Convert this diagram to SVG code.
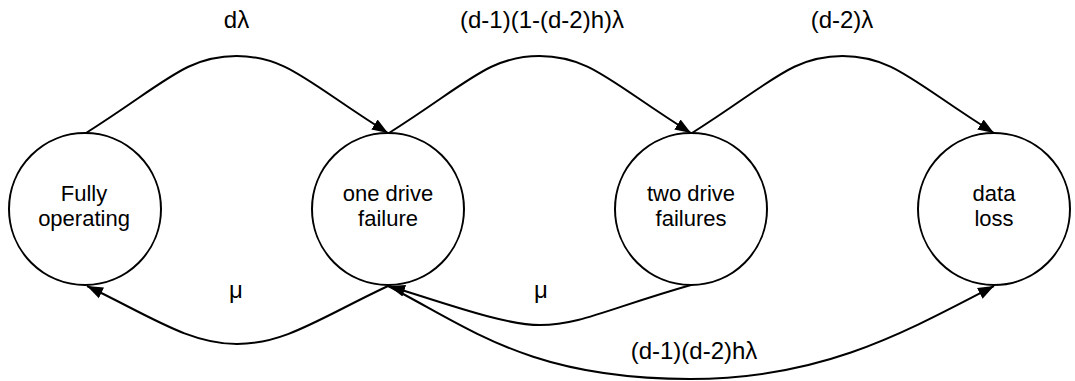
<svg xmlns="http://www.w3.org/2000/svg" width="1075" height="381" viewBox="0 0 1075 381">
<style>
.node circle{fill:#fff;stroke:#000;stroke-width:2}
.node text{font-family:"Liberation Sans",Arial,sans-serif;font-size:22px;fill:#000;text-anchor:middle}
.edge{fill:none;stroke:#000;stroke-width:2}
.lbl{font-family:"Liberation Sans",Arial,sans-serif;font-size:24px;fill:#000;text-anchor:middle}
</style>
<defs>
<marker id="arr" markerWidth="18" markerHeight="14" refX="16" refY="7" orient="auto" markerUnits="userSpaceOnUse">
<path d="M0,1 L16,7 L0,13 z" fill="#000"/>
</marker>
</defs>
<rect width="1075" height="381" fill="#fff"/>
<g id="connectors">
<path class="edge" d="M86,133 C165,83 186,56 236.5,56 C287,56 308,83 388,133" marker-end="url(#arr)"/>
<path class="edge" d="M389,133 C468,83 489,56 539.5,56 C590,56 611,83 691,133" marker-end="url(#arr)"/>
<path class="edge" d="M692,133 C771,83 792,56 842.5,56 C893,56 914,83 994,133" marker-end="url(#arr)"/>
<path class="edge" d="M388,286 C320,318 285,344 237,344 C189,344 150,316 87,286" marker-end="url(#arr)"/>
<path class="edge" d="M691,285 C610,308 580,325 540,325 C505,325 450,305 389,286" marker-end="url(#arr)"/>
<path class="edge" d="M388,286 C470,328 530,379 690,379 C820,379 900,335 994,286" marker-end="url(#arr)"/>
<text class="lbl" x="236.5" y="28">dλ</text>
<text class="lbl" x="542" y="28">(d-1)(1-(d-2)h)λ</text>
<text class="lbl" x="842" y="28">(d-2)λ</text>
<text class="lbl" x="236" y="298">μ</text>
<text class="lbl" x="541" y="298">μ</text>
<text class="lbl" x="694" y="359">(d-1)(d-2)hλ</text>
</g>
<g id="fully" class="node">
<circle cx="85" cy="209" r="76"/>
<text x="84" y="201">Fully</text>
<text x="84" y="226">operating</text>
</g>
<g id="one" class="node">
<circle cx="388" cy="209" r="76"/>
<text x="388" y="201">one drive</text>
<text x="388" y="226">failure</text>
</g>
<g id="two" class="node">
<circle cx="691" cy="209" r="76"/>
<text x="691" y="201">two drive</text>
<text x="691" y="226">failures</text>
</g>
<g id="loss" class="node">
<circle cx="994" cy="209" r="76"/>
<text x="994" y="201">data</text>
<text x="994" y="226">loss</text>
</g>
</svg>
